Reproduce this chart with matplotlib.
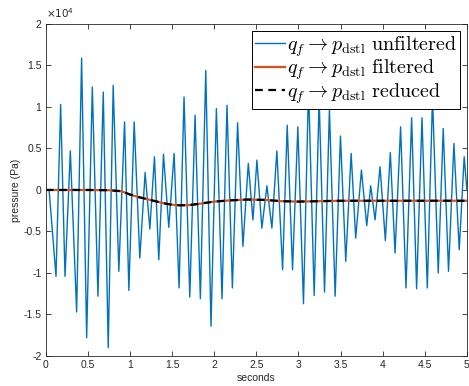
import numpy as np
import matplotlib
matplotlib.use('Agg')
import matplotlib.pyplot as plt

# unfiltered signal: extrema (seconds, Pa)
t_raw = [0.0, 0.04, 0.122, 0.177, 0.229, 0.292, 0.367, 0.426, 0.486, 0.553,
         0.62, 0.683, 0.742, 0.801, 0.868, 0.936, 0.987, 1.05, 1.117, 1.18,
         1.236, 1.291, 1.342, 1.398, 1.461, 1.524, 1.583, 1.642, 1.71, 1.773,
         1.836, 1.9, 1.962, 2.026, 2.093, 2.152, 2.216, 2.278, 2.341, 2.405,
         2.46, 2.507, 2.566, 2.626, 2.685, 2.744, 2.812, 2.867, 2.93, 2.993,
         3.06, 3.12, 3.187, 3.246, 3.31, 3.368, 3.436, 3.499, 3.562, 3.626,
         3.68, 3.748, 3.811, 3.858, 3.91, 3.969, 4.032, 4.091, 4.147, 4.213,
         4.277, 4.344, 4.403, 4.467, 4.53, 4.592, 4.66, 4.719, 4.782, 4.846,
         4.909, 4.968, 5.0]
p_raw = [0, 0, -10400, 10300, -10400, 4700, -14700, 15900, -17800, 12400,
         -12800, 11800, -19000, 12600, -9800, 8200, -12100, 8200, -8200, 2100,
         -4700, 4000, -8400, 4300, -4500, 4400, -11800, 11200, -12900, 9000,
         -13100, 14400, -16400, 9800, -13100, 10200, -11800, 8100, -6800, 3200,
         -3600, 3600, -4600, 500, -4600, 4700, -9600, 7800, -9600, 7600,
         -13700, 12500, -12700, 11000, -12300, 9700, -12800, 6500, -8600, 4400,
         -5800, 2400, -4300, 500, -3600, 2800, -6100, 4500, -7600, 7600,
         -11800, 8700, -11900, 8700, -11800, 11200, -10000, 7400, -9800, 5600,
         -7200, 4000, 0]

# filtered / reduced response (slow component)
t_slow = [0.0, 0.25, 0.5, 0.75, 0.9, 1.0, 1.1, 1.2, 1.3, 1.4, 1.5, 1.6, 1.7,
          1.8, 1.9, 2.0, 2.2, 2.4, 2.6, 2.8, 3.0, 3.5, 4.0, 4.5, 5.0]
p_filt = [0, 0, 0, -30, -150, -550, -850, -1100, -1350, -1600, -1780, -1850, -1820,
          -1700, -1550, -1400, -1250, -1150, -1200, -1350, -1400, -1300, -1300, -1300, -1300]
p_red = p_filt

xticks = [0, 0.5, 1, 1.5, 2, 2.5, 3, 3.5, 4, 4.5, 5]
yticks = [-2e4, -1.5e4, -1e4, -0.5e4, 0, 0.5e4, 1e4, 1.5e4, 2e4]

plt.rcParams['font.family'] = ['Liberation Sans', 'DejaVu Sans']
plt.rcParams['mathtext.fontset'] = 'cm'

fig = plt.figure(figsize=(4.69, 3.86), dpi=100)
ax = fig.add_axes([0.0975, 0.0777, 0.898, 0.8603])

ax.plot(t_raw, p_raw, color='#0072BD', lw=1.0,
        label=r'$q_f \rightarrow p_{\mathrm{dstl}}\ \mathrm{unfiltered}$')
ax.plot(t_slow, p_filt, color='#D95319', lw=1.6,
        label=r'$q_f \rightarrow p_{\mathrm{dstl}}\ \mathrm{filtered}$')
ax.plot(t_slow, p_red, color='black', lw=1.6, ls=(0, (3.5, 2.5)),
        label=r'$q_f \rightarrow p_{\mathrm{dstl}}\ \mathrm{reduced}$')

ax.set_xlim(0, 5)
ax.set_ylim(-2e4, 2e4)
ax.set_xticks(xticks)
ax.set_xticklabels(['%g' % v for v in xticks])
ax.set_yticks(yticks)
ax.set_yticklabels(['%g' % (v / 1e4) for v in yticks])
ax.tick_params(direction='in', length=3.5, width=0.6, labelsize=7.5,
               colors='#262626', top=True, right=True, pad=3)
for s in ax.spines.values():
    s.set_color('#262626')
    s.set_linewidth(0.6)

ax.text(0.0, 1.012, r'$\times 10^{4}$', transform=ax.transAxes, fontsize=7.5,
        color='#262626', ha='left', va='bottom',
        math_fontfamily='dejavusans')
ax.set_xlabel('seconds', fontsize=7.5, color='#262626', labelpad=2)
ax.set_ylabel('pressure (Pa)', fontsize=7.5, color='#262626', labelpad=2)

leg = ax.legend(loc='upper right', fontsize=14.5, fancybox=False,
                edgecolor='black', framealpha=1, borderaxespad=0.35,
                handlelength=1.45, handletextpad=0.1, labelspacing=-0.05,
                borderpad=0.15)
leg.get_frame().set_linewidth(0.7)

fig.savefig('out.png', dpi=100)
